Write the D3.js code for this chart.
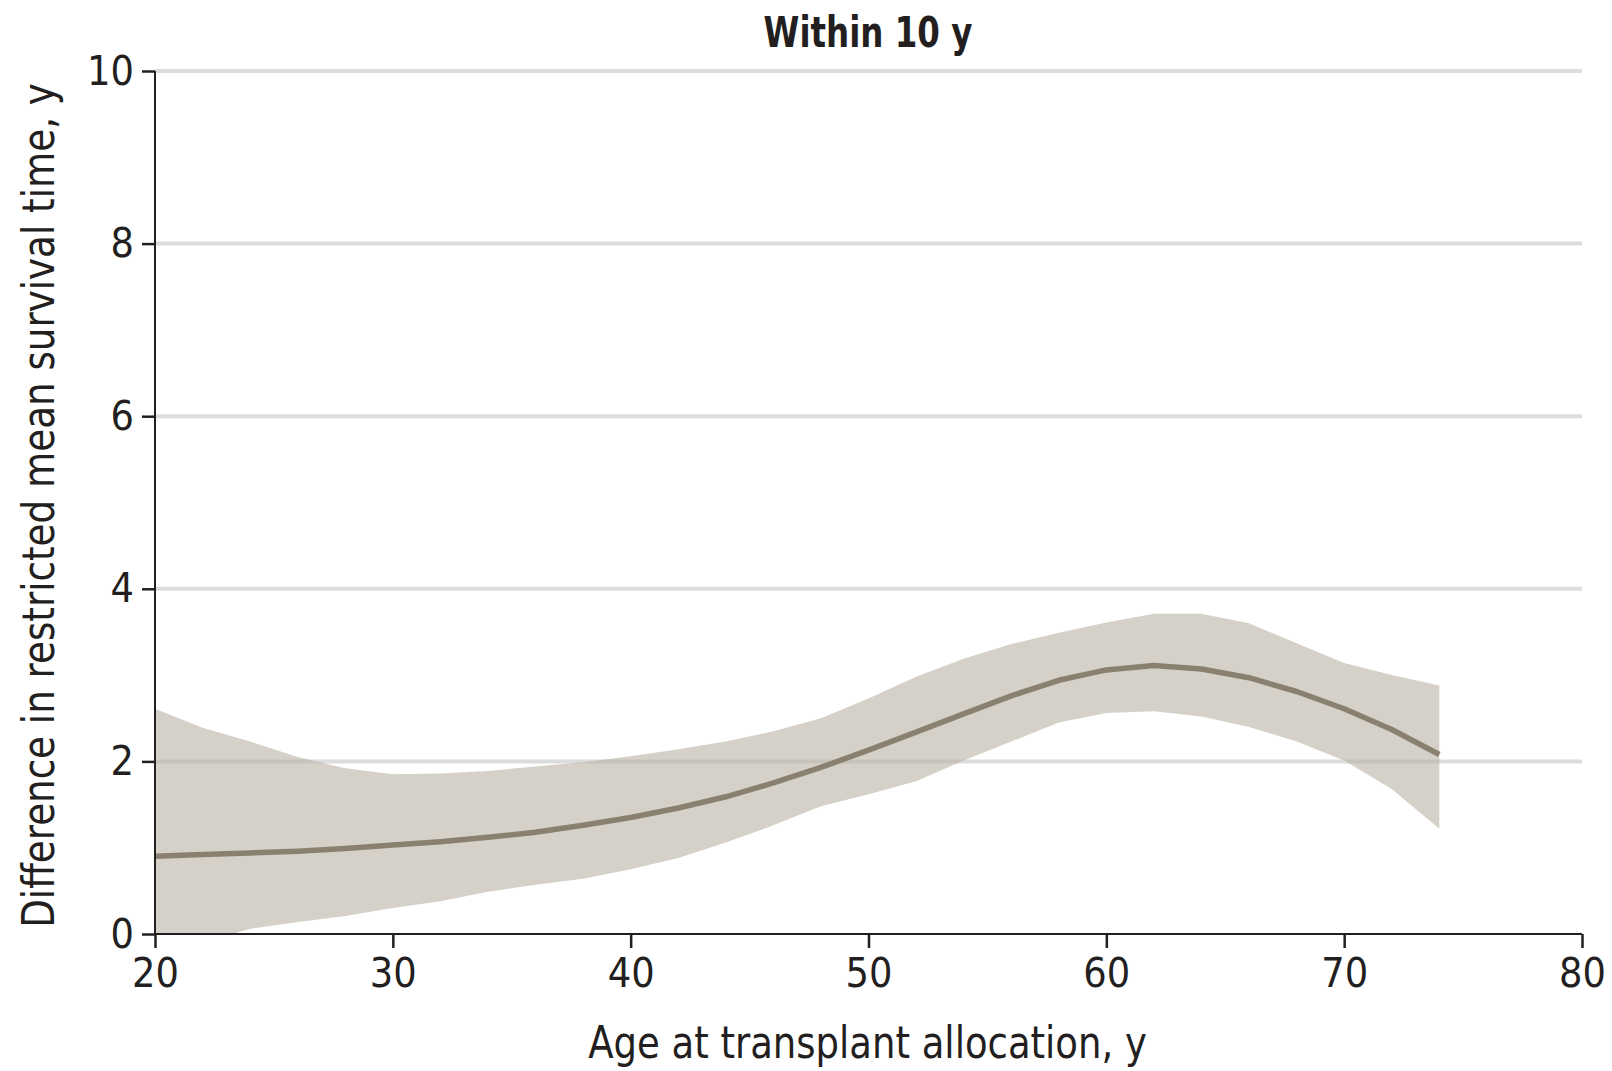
<!DOCTYPE html>
<html>
<head>
<meta charset="utf-8">
<script src="https://cdn.jsdelivr.net/npm/d3@7"></script>
<style>
  html, body { margin: 0; padding: 0; background: #fff; }
  svg { display: block; }
  text { fill: #231f20; }
</style>
</head>
<body>
<div id="chart"></div>
<script>
// data
const ages = [20, 22, 24, 26, 28, 30, 32, 34, 36, 38, 40, 42, 44, 46, 48, 50, 52, 54, 56, 58, 60, 62, 64, 66, 68, 70, 72, 74];
const estimate = [0.90, 0.92, 0.94, 0.96, 0.99, 1.03, 1.07, 1.12, 1.18, 1.26, 1.35, 1.46, 1.59, 1.75, 1.93, 2.13, 2.34, 2.55, 2.76, 2.94, 3.06, 3.11, 3.07, 2.97, 2.81, 2.61, 2.37, 2.08];
const upper = [2.61, 2.39, 2.23, 2.05, 1.92, 1.85, 1.86, 1.89, 1.94, 1.99, 2.06, 2.14, 2.23, 2.35, 2.50, 2.73, 2.98, 3.19, 3.36, 3.49, 3.61, 3.71, 3.71, 3.60, 3.37, 3.14, 3.00, 2.88];
const lower = [-0.35, -0.10, 0.06, 0.14, 0.21, 0.30, 0.38, 0.49, 0.57, 0.64, 0.75, 0.88, 1.06, 1.26, 1.48, 1.62, 1.77, 2.01, 2.23, 2.45, 2.56, 2.58, 2.52, 2.40, 2.23, 2.01, 1.68, 1.22];
const xTicks = [20, 30, 40, 50, 60, 70, 80];
const yTicks = [0, 2, 4, 6, 8, 10];

const width = 1612, height = 1071;
const margin = { top: 71, right: 30, bottom: 137, left: 155 };
const font = '"DejaVu Sans Condensed", "Liberation Sans Narrow", "Open Sans", sans-serif';

const svg = d3.select('#chart').append('svg')
    .attr('width', width)
    .attr('height', height);

const x = d3.scaleLinear().domain([20, 80]).range([margin.left, width - margin.right]);
const y = d3.scaleLinear().domain([0, 10]).range([height - margin.bottom, margin.top]);

const rows = ages.map((a, i) => ({ age: a, est: estimate[i], lo: lower[i], hi: upper[i] }));

svg.append('defs').append('clipPath').attr('id', 'plot-clip')
    .append('rect')
    .attr('x', x(20)).attr('y', y(10))
    .attr('width', x(80) - x(20)).attr('height', y(0) - y(10));

// gridlines
svg.append('g').attr('class', 'grid')
    .selectAll('line')
    .data(yTicks.filter(d => d > 0))
    .enter().append('line')
    .attr('x1', x(20)).attr('x2', x(80))
    .attr('y1', d => y(d)).attr('y2', d => y(d))
    .attr('stroke', '#dcdcdc')
    .attr('stroke-width', 4);

const plot = svg.append('g').attr('clip-path', 'url(#plot-clip)');

plot.append('path')
    .datum(rows)
    .attr('d', d3.area().x(d => x(d.age)).y0(d => y(d.lo)).y1(d => y(d.hi)))
    .attr('fill', '#b9b2a5')
    .attr('fill-opacity', 0.6);

plot.append('path')
    .datum(rows)
    .attr('d', d3.line().x(d => x(d.age)).y(d => y(d.est)))
    .attr('fill', 'none')
    .attr('stroke', '#8a8070')
    .attr('stroke-width', 5.5)
    .attr('stroke-linejoin', 'round');

// axes
const xAxis = svg.append('g')
    .attr('transform', `translate(0,${y(0)})`)
    .call(d3.axisBottom(x).tickValues(xTicks).tickSize(14).tickPadding(10));

const yAxis = svg.append('g')
    .attr('transform', `translate(${x(20)},0)`)
    .call(d3.axisLeft(y).tickValues(yTicks).tickSize(13).tickPadding(8));

[xAxis, yAxis].forEach(ax => {
    ax.select('.domain').attr('stroke', '#231f20').attr('stroke-width', 2);
    ax.selectAll('.tick line').attr('stroke', '#231f20').attr('stroke-width', 2.5);
    ax.selectAll('.tick text')
        .attr('font-family', font)
        .attr('font-size', 41)
        .attr('fill', '#231f20');
});
xAxis.select('.domain').attr('d', `M${x(20)},0H${x(80)}`);
yAxis.select('.domain').attr('d', `M0,${y(0)}V${y(10)}`);

// titles (narrowed horizontally to mimic the condensed face of the original)
svg.append('text')
    .attr('transform', 'translate(868,47) scale(0.86,1)')
    .attr('text-anchor', 'middle')
    .attr('font-family', font)
    .attr('font-weight', 'bold')
    .attr('font-size', 42)
    .text('Within 10 y');

svg.append('text')
    .attr('transform', `translate(${(x(20) + x(80)) / 2 - 1},1058) scale(0.935,1)`)
    .attr('text-anchor', 'middle')
    .attr('font-family', font)
    .attr('font-size', 44)
    .text('Age at transplant allocation, y');

svg.append('text')
    .attr('transform', `translate(54,${(y(0) + y(10)) / 2 + 3}) rotate(-90) scale(0.92,1)`)
    .attr('text-anchor', 'middle')
    .attr('font-family', font)
    .attr('font-size', 45)
    .text('Difference in restricted mean survival time, y');
</script>
</body>
</html>
